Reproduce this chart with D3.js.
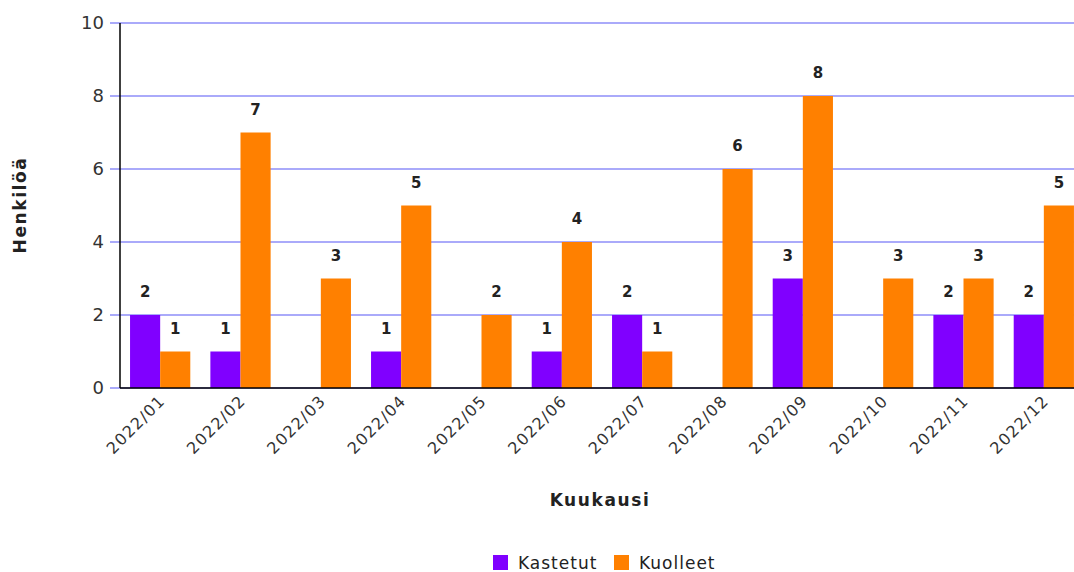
<!DOCTYPE html>
<html>
<head>
<meta charset="utf-8">
<script src="https://cdnjs.cloudflare.com/ajax/libs/d3/7.8.5/d3.min.js"></script>
<style>
  body { margin: 0; background: #fff; }
  svg { font-family: "DejaVu Sans", sans-serif; }
</style>
</head>
<body>
<svg width="1074" height="572"></svg>
<script>
// data
var months = ["2022/01","2022/02","2022/03","2022/04","2022/05","2022/06",
              "2022/07","2022/08","2022/09","2022/10","2022/11","2022/12"];
var kastetut = [2,1,0,1,0,1,2,0,3,0,2,2];
var kuolleet = [1,7,3,5,2,4,1,6,8,3,3,5];
var seriesNames = ["Kastetut","Kuolleet"];
var seriesColors = ["#8000ff","#ff8000"];
var yTicks = [0,2,4,6,8,10];

var svg = d3.select("svg");
var plotLeft = 120, plotRight = 1084, plotTop = 23, plotBottom = 388;

var x = d3.scaleBand().domain(months).range([plotLeft, plotRight])
  .paddingInner(0.25).paddingOuter(0.125);
var x1 = d3.scaleBand().domain(seriesNames).range([0, x.bandwidth()]);
var y = d3.scaleLinear().domain([0, 10]).range([plotBottom, plotTop]);

// gridlines
svg.append("g").selectAll("line").data(yTicks).enter().append("line")
  .attr("x1", plotLeft - 10).attr("x2", 1074)
  .attr("y1", function(d) { return y(d); })
  .attr("y2", function(d) { return y(d); })
  .attr("stroke", "#8e8ef8").attr("stroke-width", 1.3);

// y tick labels
svg.append("g").selectAll("text").data(yTicks).enter().append("text")
  .attr("x", plotLeft - 16).attr("y", function(d) { return y(d); })
  .attr("dy", "0.36em").attr("text-anchor", "end")
  .attr("font-size", 18).attr("fill", "#333")
  .text(function(d) { return d; });

// bars
var rows = months.map(function(m, i) {
  return [{m: m, s: "Kastetut", v: kastetut[i]}, {m: m, s: "Kuolleet", v: kuolleet[i]}];
});
var groups = svg.append("g").selectAll("g").data(rows).enter().append("g")
  .attr("transform", function(d) { return "translate(" + x(d[0].m) + ",0)"; });

groups.selectAll("rect").data(function(d) { return d; }).enter().append("rect")
  .attr("x", function(d) { return x1(d.s); })
  .attr("width", x1.bandwidth())
  .attr("y", function(d) { return y(d.v); })
  .attr("height", function(d) { return y(0) - y(d.v); })
  .attr("fill", function(d) { return seriesColors[seriesNames.indexOf(d.s)]; });

groups.selectAll("text").data(function(d) { return d.filter(function(e) { return e.v > 0; }); })
  .enter().append("text")
  .attr("x", function(d) { return x1(d.s) + x1.bandwidth() / 2; })
  .attr("y", function(d) { return y(d.v) - 18; })
  .attr("text-anchor", "middle")
  .attr("font-size", 15).attr("font-weight", "bold").attr("fill", "#222")
  .text(function(d) { return d.v; });

// axes lines
svg.append("line").attr("x1", plotLeft).attr("x2", plotLeft).attr("y1", plotTop).attr("y2", plotBottom)
  .attr("stroke", "#000").attr("stroke-width", 1.5);
svg.append("line").attr("x1", plotLeft).attr("x2", 1074).attr("y1", plotBottom).attr("y2", plotBottom)
  .attr("stroke", "#000").attr("stroke-width", 1.5);

// x tick labels, rotated
svg.append("g").selectAll("text").data(months).enter().append("text")
  .attr("transform", function(d) {
    return "translate(" + (x(d) + x.bandwidth() / 2 + 2) + "," + (plotBottom + 10) + ") rotate(-45)";
  })
  .attr("text-anchor", "end").attr("dy", "0.35em")
  .attr("font-size", 16).attr("fill", "#333").attr("letter-spacing", 1.2)
  .text(function(d) { return d; });

// axis titles
svg.append("text").attr("x", 600).attr("y", 506).attr("text-anchor", "middle")
  .attr("font-size", 17).attr("font-weight", "bold").attr("fill", "#222")
  .attr("letter-spacing", 1.6)
  .text("Kuukausi");
svg.append("text").attr("transform", "translate(26,205) rotate(-90)")
  .attr("text-anchor", "middle")
  .attr("font-size", 17).attr("font-weight", "bold").attr("fill", "#222")
  .attr("letter-spacing", 1.6)
  .text("Henkilöä");

// legend
var legend = svg.append("g");
var lx = [493, 614];
seriesNames.forEach(function(s, i) {
  legend.append("rect").attr("x", lx[i]).attr("y", 555).attr("width", 15).attr("height", 15)
    .attr("fill", seriesColors[i]);
  legend.append("text").attr("x", lx[i] + 25).attr("y", 569)
    .attr("font-size", 17).attr("fill", "#222").attr("letter-spacing", 1)
    .text(s);
});
</script>
</body>
</html>
